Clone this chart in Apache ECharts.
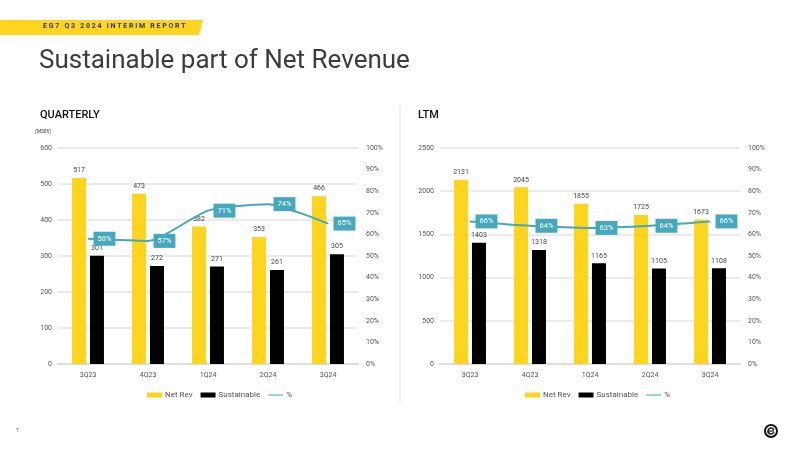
<!DOCTYPE html>
<html>
<head>
<meta charset="utf-8">
<script src="https://cdn.jsdelivr.net/npm/echarts@6/dist/echarts.min.js"></script>
<style>
  html, body { margin: 0; padding: 0; background: #fff; }
  #main { width: 800px; height: 450px; }
</style>
</head>
<body>
<div id="main"></div>
<script>
// data
var quarters = ['3Q23', '4Q23', '1Q24', '2Q24', '3Q24'];
var qNetRev = [517, 473, 382, 353, 466];
var qSustainable = [301, 272, 271, 261, 305];
var qPct = [58, 57, 71, 74, 65];

var ltmNetRev = [2131, 2045, 1855, 1725, 1673];
var ltmSustainable = [1403, 1318, 1165, 1105, 1108];
var ltmPct = [66, 64, 63, 64, 66];

var YELLOW = '#fdd51f';
var TEAL = '#45a8bd';
var FONT = 'Roboto, "DejaVu Sans", sans-serif';
// thin line icon for the % legend entry (moveTo points pad the box)
var LINE_ICON = 'path://M0,0 M0,4h30v2h-30z M30,10';

var myChart = echarts.init(document.getElementById('main'));

function barLabel() {
    return { show: true, position: 'top', distance: 4, fontSize: 7, color: '#444', fontFamily: FONT };
}

function pctLabel() {
    return {
        show: true, position: 'right', distance: 5,
        formatter: '{c}%', fontSize: 7.5, color: '#fff', fontFamily: FONT,
        backgroundColor: TEAL, padding: [3, 4, 3, 4]
    };
}

var axisText = { fontSize: 7, color: '#555', fontFamily: FONT };

function legendFor(left) {
    return {
        left: left, top: 386, itemWidth: 15, itemHeight: 5, itemGap: 8,
        textStyle: { fontSize: 8, color: '#555', padding: [0, 0, 0, -2] },
        data: [
            { name: 'Net Rev', icon: 'rect' },
            { name: 'Sustainable', icon: 'rect' },
            { name: '%', icon: LINE_ICON, itemStyle: { color: TEAL } }
        ]
    };
}

function plainNum(v) { return String(v); }

var option = {
    backgroundColor: '#fff',
    animation: false,
    textStyle: { fontFamily: FONT },
    grid: [
        { left: 58, right: 442, top: 148, bottom: 86 },
        { left: 440, right: 60, top: 148, bottom: 86 }
    ],
    xAxis: [
        { type: 'category', gridIndex: 0, data: quarters,
          axisLine: { lineStyle: { color: '#ddd', width: 2 } }, axisTick: { show: false },
          axisLabel: Object.assign({ margin: 8 }, axisText) },
        { type: 'category', gridIndex: 1, data: quarters,
          axisLine: { lineStyle: { color: '#ddd', width: 2 } }, axisTick: { show: false },
          axisLabel: Object.assign({ margin: 8 }, axisText) }
    ],
    yAxis: [
        { type: 'value', gridIndex: 0, min: 0, max: 600, interval: 100,
          axisLine: { show: false }, axisTick: { show: false },
          axisLabel: Object.assign({ margin: 6, formatter: plainNum }, axisText),
          splitLine: { lineStyle: { color: '#e4e4e4', width: 1.5 } } },
        { type: 'value', gridIndex: 0, min: 0, max: 100, interval: 10,
          axisLine: { show: false }, axisTick: { show: false },
          axisLabel: Object.assign({ margin: 8, formatter: '{value}%' }, axisText),
          splitLine: { show: false } },
        { type: 'value', gridIndex: 1, min: 0, max: 2500, interval: 500,
          axisLine: { show: false }, axisTick: { show: false },
          axisLabel: Object.assign({ margin: 6, formatter: plainNum }, axisText),
          splitLine: { lineStyle: { color: '#e4e4e4', width: 1.5 } } },
        { type: 'value', gridIndex: 1, min: 0, max: 100, interval: 10,
          axisLine: { show: false }, axisTick: { show: false },
          axisLabel: Object.assign({ margin: 8, formatter: '{value}%' }, axisText),
          splitLine: { show: false } }
    ],
    legend: [legendFor(142), legendFor(520)],
    series: [
        { name: 'Net Rev', type: 'bar', xAxisIndex: 0, yAxisIndex: 0, data: qNetRev,
          barWidth: 14, barGap: '28%', itemStyle: { color: YELLOW }, label: barLabel() },
        { name: 'Sustainable', type: 'bar', xAxisIndex: 0, yAxisIndex: 0, data: qSustainable,
          barWidth: 14, barGap: '28%', itemStyle: { color: '#000' }, label: barLabel() },
        { name: '%', type: 'line', xAxisIndex: 0, yAxisIndex: 1, data: qPct, smooth: 0.2,
          symbol: 'circle', symbolSize: 1, showSymbol: true,
          lineStyle: { color: TEAL, width: 2 }, itemStyle: { color: TEAL },
          label: pctLabel(), z: 5 },
        { name: 'Net Rev', type: 'bar', xAxisIndex: 1, yAxisIndex: 2, data: ltmNetRev,
          barWidth: 14, barGap: '28%', itemStyle: { color: YELLOW }, label: barLabel() },
        { name: 'Sustainable', type: 'bar', xAxisIndex: 1, yAxisIndex: 2, data: ltmSustainable,
          barWidth: 14, barGap: '28%', itemStyle: { color: '#000' }, label: barLabel() },
        { name: '%', type: 'line', xAxisIndex: 1, yAxisIndex: 3, data: ltmPct, smooth: 0.2,
          symbol: 'circle', symbolSize: 1, showSymbol: true,
          lineStyle: { color: TEAL, width: 2 }, itemStyle: { color: TEAL },
          label: pctLabel(), z: 5 }
    ],
    graphic: [
        { type: 'polygon', shape: { points: [[0, 20], [203, 20], [199, 35], [0, 35]] },
          style: { fill: YELLOW } },
        { type: 'text', left: 43, top: 23,
          style: { text: 'E G 7   Q 3   2 0 2 4   I N T E R I M   R E P O R T', fontSize: 7, fontWeight: 'bold',
                   fill: '#333', fontFamily: FONT } },
        { type: 'text', left: 39, top: 48,
          style: { text: 'Sustainable part of Net Revenue', fontSize: 26, fill: '#3c3c3c', fontFamily: FONT } },
        { type: 'text', left: 40, top: 110,
          style: { text: 'QUARTERLY', fontSize: 11, fontWeight: 500, fill: '#111', fontFamily: FONT } },
        { type: 'text', left: 35, top: 129,
          style: { text: '(MSEK)', fontSize: 5, fontStyle: 'italic', fill: '#444', fontFamily: FONT } },
        { type: 'text', left: 418, top: 110,
          style: { text: 'LTM', fontSize: 11, fontWeight: 500, fill: '#111', fontFamily: FONT } },
        { type: 'line', shape: { x1: 400, y1: 105, x2: 400, y2: 402 },
          style: { stroke: '#eee', lineWidth: 1.5 } },
        { type: 'text', left: 16, top: 428,
          style: { text: '7', fontSize: 5, fill: '#555', fontFamily: FONT } },
        { type: 'circle', shape: { cx: 771, cy: 431, r: 6 },
          style: { fill: 'none', stroke: '#111', lineWidth: 2 } },
        { type: 'arc', shape: { cx: 771, cy: 431, r: 3, startAngle: 0.3, endAngle: 5.9 },
          style: { fill: 'none', stroke: '#111', lineWidth: 1.5 } },
        { type: 'line', shape: { x1: 768, y1: 431, x2: 774, y2: 431 },
          style: { stroke: '#111', lineWidth: 1.2 } }
    ]
};

myChart.setOption(option);
</script>
</body>
</html>
